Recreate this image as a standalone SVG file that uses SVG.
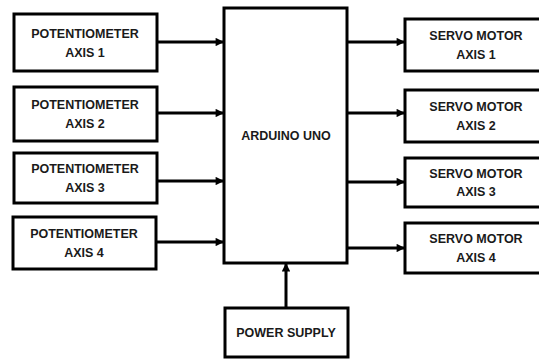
<svg xmlns="http://www.w3.org/2000/svg" width="539" height="359" viewBox="0 0 539 359">
<defs>
<style>
.box{fill:#fff;stroke:#000;stroke-width:3}
.t{font-family:"Liberation Sans",Arial,sans-serif;font-weight:bold;font-size:12.5px;fill:#1a1a1a;text-anchor:middle}
.c{stroke:#000;stroke-width:3;fill:none;marker-end:url(#ah)}
</style>
<marker id="ah" viewBox="0 0 10 10" refX="10" refY="5" markerWidth="3" markerHeight="2.8" orient="auto" markerUnits="strokeWidth">
<path d="M0,0 L10,5 L0,10 z" fill="#000"/>
</marker>
</defs>
<rect width="539" height="359" fill="#fff"/>
<g id="connectors">
<line class="c" x1="157" y1="42" x2="224" y2="42"/>
<line class="c" x1="157" y1="113" x2="224" y2="113"/>
<line class="c" x1="157" y1="181" x2="224" y2="181"/>
<line class="c" x1="156" y1="242" x2="224" y2="242"/>
<line class="c" x1="347" y1="42" x2="405" y2="42"/>
<line class="c" x1="347" y1="113" x2="405" y2="113"/>
<line class="c" x1="347" y1="182" x2="405" y2="182"/>
<line class="c" x1="347" y1="248" x2="405" y2="248"/>
<line class="c" x1="286" y1="308" x2="286" y2="263"/>
</g>
<g id="pot1"><rect class="box" x="14" y="14" width="143" height="57"/><text class="t" x="85" y="38">POTENTIOMETER</text><text class="t" x="85" y="57">AXIS 1</text></g>
<g id="pot2"><rect class="box" x="14" y="87" width="143" height="54"/><text class="t" x="85" y="109">POTENTIOMETER</text><text class="t" x="85" y="128">AXIS 2</text></g>
<g id="pot3"><rect class="box" x="14" y="153" width="143" height="50"/><text class="t" x="85" y="173">POTENTIOMETER</text><text class="t" x="85" y="192">AXIS 3</text></g>
<g id="pot4"><rect class="box" x="13" y="217" width="143" height="52"/><text class="t" x="84" y="238">POTENTIOMETER</text><text class="t" x="84" y="257">AXIS 4</text></g>
<g id="arduino"><rect class="box" x="224" y="8" width="123" height="255"/><text class="t" x="286" y="140">ARDUINO UNO</text></g>
<g id="servo1"><rect class="box" x="405" y="19" width="143" height="52"/><text class="t" x="476" y="40">SERVO MOTOR</text><text class="t" x="476" y="59">AXIS 1</text></g>
<g id="servo2"><rect class="box" x="405" y="90" width="143" height="52"/><text class="t" x="476" y="111">SERVO MOTOR</text><text class="t" x="476" y="130">AXIS 2</text></g>
<g id="servo3"><rect class="box" x="405" y="158" width="143" height="49"/><text class="t" x="476" y="178">SERVO MOTOR</text><text class="t" x="476" y="196">AXIS 3</text></g>
<g id="servo4"><rect class="box" x="405" y="223" width="143" height="50"/><text class="t" x="476" y="243">SERVO MOTOR</text><text class="t" x="476" y="262">AXIS 4</text></g>
<g id="power"><rect class="box" x="225" y="308" width="123" height="49"/><text class="t" x="286" y="337">POWER SUPPLY</text></g>
</svg>
